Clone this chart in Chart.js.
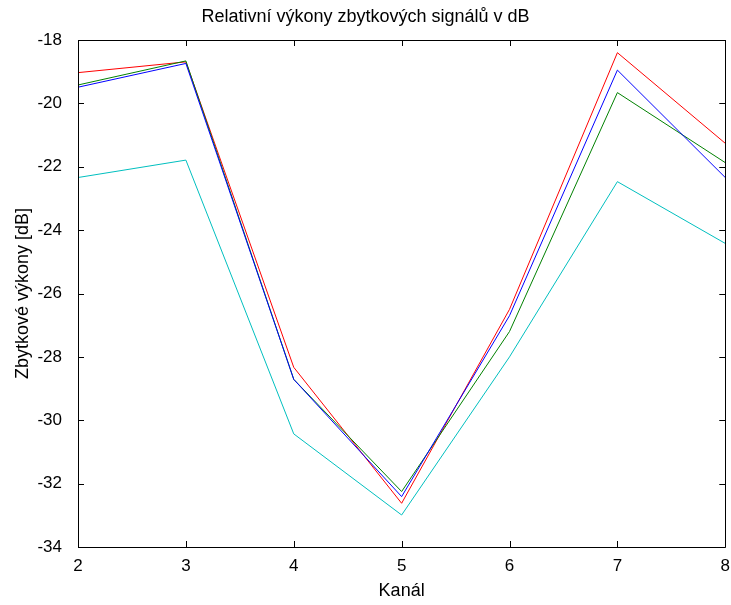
<!DOCTYPE html>
<html>
<head>
<meta charset="utf-8">
<script src="https://cdn.jsdelivr.net/npm/chart.js@4.4.1/dist/chart.umd.min.js"></script>
<style>
html,body{margin:0;padding:0;background:#fff;}
canvas{display:block;}
</style>
</head>
<body>
<canvas id="c" width="731" height="605"></canvas>
<script>
const channels = [2, 3, 4, 5, 6, 7, 8];
const blueValues  = [-19.49, -18.74, -28.71, -32.41, -26.70, -18.95, -22.34];
const greenValues = [-19.42, -18.66, -28.71, -32.25, -27.20, -19.66, -21.87];
const redValues   = [-19.03, -18.69, -28.33, -32.62, -26.50, -18.40, -21.26];
const cyanValues  = [-22.34, -21.79, -30.43, -32.99, -28.00, -22.47, -24.42];
const xTicks = [2, 3, 4, 5, 6, 7, 8];
const yTicks = [-34, -32, -30, -28, -26, -24, -22, -20, -18];

const FONT = "'Liberation Sans', Arial, Helvetica, sans-serif";

function pts(vals){ return channels.map((c,i)=>({x:c, y:vals[i]})); }
function ds(label, vals, color){
  return {label, data: pts(vals), borderColor: color, backgroundColor: color,
          borderWidth: 1, pointRadius: 0, tension: 0, fill: false};
}

const boxPlugin = {
  id: 'box',
  afterDraw(chart){
    const {ctx, chartArea: a, scales:{x, y}} = chart;
    ctx.save();
    ctx.strokeStyle = '#000';
    ctx.lineWidth = 1;
    ctx.beginPath();
    ctx.rect(Math.round(a.left)+0.5, Math.round(a.top)+0.5, Math.round(a.right-a.left), Math.round(a.bottom-a.top));
    ctx.stroke();
    const tl = 6;
    ctx.beginPath();
    xTicks.forEach(v=>{
      const px = Math.round(x.getPixelForValue(v))+0.5;
      ctx.moveTo(px, a.bottom); ctx.lineTo(px, a.bottom - tl);
      ctx.moveTo(px, a.top); ctx.lineTo(px, a.top + tl);
    });
    yTicks.forEach(v=>{
      const py = Math.round(y.getPixelForValue(v))+0.5;
      ctx.moveTo(a.left, py); ctx.lineTo(a.left + tl, py);
      ctx.moveTo(a.right, py); ctx.lineTo(a.right - tl, py);
    });
    ctx.stroke();
    ctx.restore();
  }
};

new Chart(document.getElementById('c'), {
  type: 'line',
  data: { datasets: [
    ds('1', blueValues, '#0000ff'),
    ds('2', greenValues, '#008000'),
    ds('3', redValues, '#ff0000'),
    ds('4', cyanValues, '#00bfbf')
  ]},
  options: {
    responsive: false,
    animation: false,
    devicePixelRatio: 1,
    layout: { padding: { left: 0, right: 0, top: 0, bottom: 0 } },
    plugins: {
      legend: { display: false },
      tooltip: { enabled: false },
      title: {
        display: true,
        text: 'Relativní výkony zbytkových signálů v dB',
        color: '#000',
        font: { family: FONT, size: 18, weight: 'normal', lineHeight: 1 },
        padding: { top: 8, bottom: 14 }
      }
    },
    scales: {
      x: {
        type: 'linear', min: 2, max: 8,
        afterBuildTicks(s){ s.ticks = xTicks.map(v=>({value:v})); },
        afterFit(s){ s.height = 58; },
        grid: { display: false }, border: { display: false },
        ticks: { color: '#000', font: { family: FONT, size: 17 }, padding: 1, maxRotation: 0 },
        title: { display: true, text: 'Kanál', color: '#000',
                 font: { family: FONT, size: 18 }, padding: { top: 0, bottom: 3 } }
      },
      y: {
        type: 'linear', min: -34, max: -18,
        afterBuildTicks(s){ s.ticks = yTicks.map(v=>({value:v})); },
        afterFit(s){ s.width = 78; },
        grid: { display: false }, border: { display: false },
        ticks: { color: '#000', font: { family: FONT, size: 17 }, padding: 8 },
        title: { display: true, text: 'Zbytkové výkony [dB]', color: '#000',
                 font: { family: FONT, size: 18 }, padding: { top: 12, bottom: 0 } }
      }
    }
  },
  plugins: [boxPlugin]
});
</script>
</body>
</html>
